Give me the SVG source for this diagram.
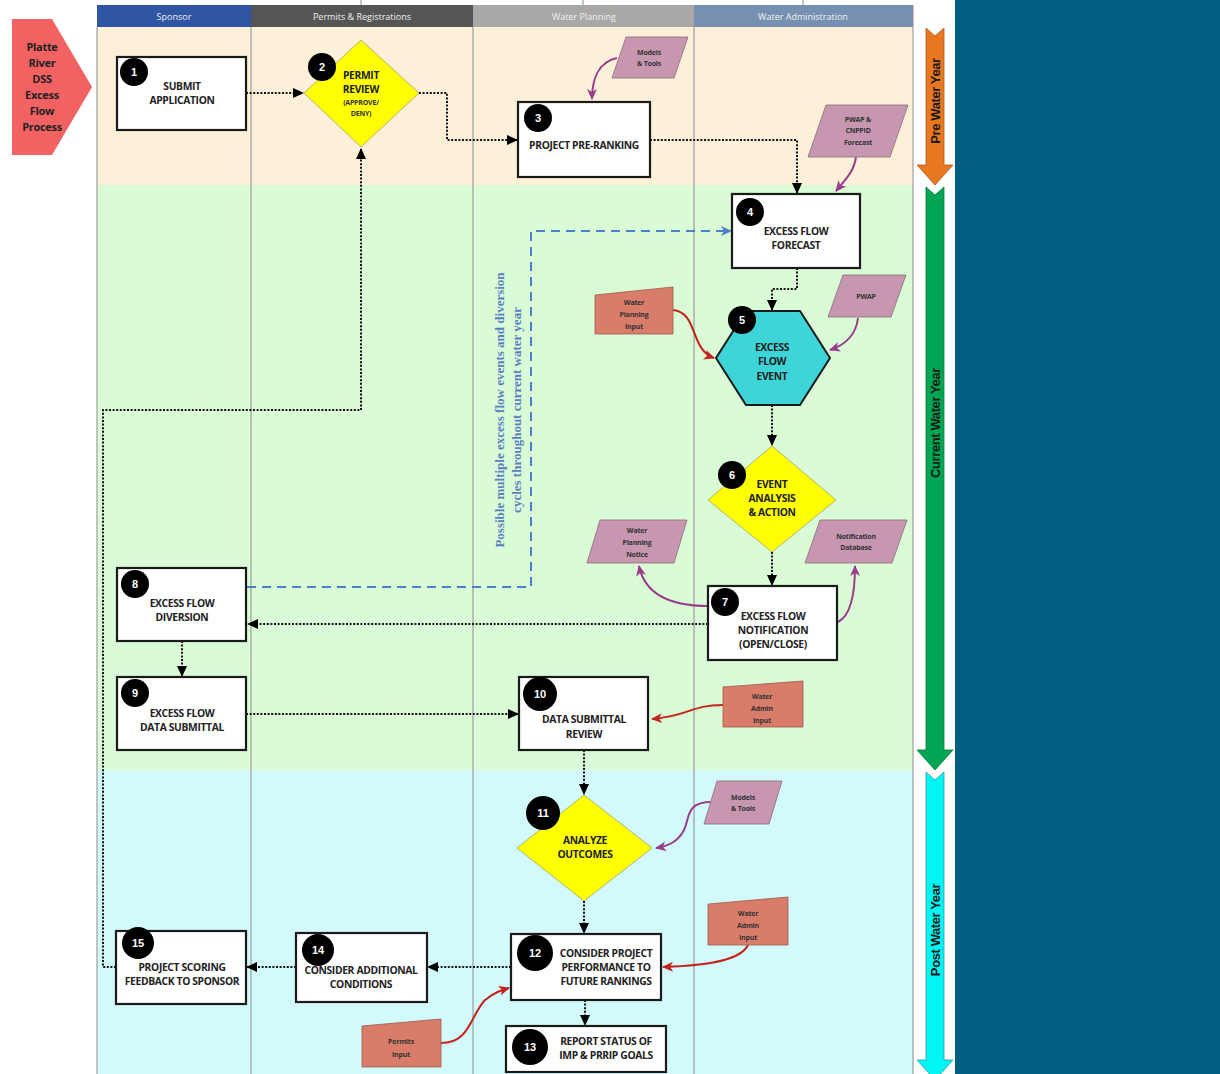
<svg xmlns="http://www.w3.org/2000/svg" width="1220" height="1074" viewBox="0 0 1220 1074">
  <style>
    .hdr { font-family: "Open Sans", "Liberation Sans", sans-serif; font-size: 9px; fill: #f0f0f0; text-anchor: middle; }
    .lbl { font-family: "Open Sans", "Liberation Sans", sans-serif; font-size: 10.3px; font-weight: bold; fill: #222; text-anchor: middle; letter-spacing: -0.35px; }
    .ttl { font-family: "Open Sans", "Liberation Sans", sans-serif; font-size: 11px; font-weight: bold; fill: #222; text-anchor: middle; letter-spacing: -0.3px; }
    .sm { font-family: "Open Sans", "Liberation Sans", sans-serif; font-size: 7px; font-weight: bold; fill: #333; text-anchor: middle; letter-spacing: -0.2px; }
    .num { font-family: "Liberation Sans", sans-serif; font-size: 11px; font-weight: bold; fill: #fff; text-anchor: middle; }
    .box { fill: #fff; stroke: #1a1a1a; stroke-width: 2.2; }
    .badge { fill: #000; }
    .para { fill: #c797b0; stroke: #8a6a7a; stroke-width: 0.8; }
    .manual { fill: #d97d6a; stroke: #9c5a4c; stroke-width: 0.8; }
    .flow { fill: none; stroke: #111; stroke-width: 2; stroke-dasharray: 2 1.6; marker-end: url(#blk); }
    .purp { fill: none; stroke: #9a3c8c; stroke-width: 2; marker-end: url(#pur); }
    .red { fill: none; stroke: #c4231b; stroke-width: 2; marker-end: url(#rd); }
    .lane { stroke: #8c8c8c; stroke-width: 1; }
    .yr { font-family: "Liberation Sans", sans-serif; font-size: 13px; font-weight: bold; fill: #1a1a1a; text-anchor: middle; letter-spacing: -0.4px; }
  </style>
  <defs>
    <marker id="blk" markerUnits="userSpaceOnUse" markerWidth="12" markerHeight="12" refX="10" refY="6" orient="auto">
      <path d="M0,1 L11,6 L0,11 Z" fill="#000"/>
    </marker>
    <marker id="pur" markerUnits="userSpaceOnUse" markerWidth="12" markerHeight="12" refX="10" refY="6" orient="auto">
      <path d="M0,1 L11,6 L0,11 L3,6 Z" fill="#9a3c8c"/>
    </marker>
    <marker id="rd" markerUnits="userSpaceOnUse" markerWidth="12" markerHeight="12" refX="10" refY="6" orient="auto">
      <path d="M0,1 L11,6 L0,11 L3,6 Z" fill="#c4231b"/>
    </marker>
    <marker id="blu" markerUnits="userSpaceOnUse" markerWidth="12" markerHeight="12" refX="10" refY="6" orient="auto">
      <path d="M0,1 L11,6 L0,11 L3,6 Z" fill="#4f7fc7"/>
    </marker>
  </defs>

  <!-- page -->
  <rect x="0" y="0" width="1220" height="1074" fill="#fff"/>
  <rect x="955" y="0" width="265" height="1074" fill="#005f80"/>

  <!-- phase bands -->
  <rect x="97" y="27" width="816" height="158" fill="#fdf0d8"/>
  <rect x="97" y="185" width="816" height="585" fill="#d9fbd5"/>
  <rect x="97" y="770" width="816" height="304" fill="#d3fafb"/>

  <!-- lane headers -->
  <g id="lane-headers">
    <rect x="97" y="5" width="154" height="22" fill="#2f55a4"/>
    <rect x="251" y="5" width="222" height="22" fill="#555555"/>
    <rect x="473" y="5" width="221" height="22" fill="#aaa8a6"/>
    <rect x="694" y="5" width="219" height="22" fill="#7590b0"/>
    <text class="hdr" x="174" y="20">Sponsor</text>
    <text class="hdr" x="362" y="20">Permits &amp; Registrations</text>
    <text class="hdr" x="584" y="20">Water Planning</text>
    <text class="hdr" x="803" y="20">Water Administration</text>
  </g>

  <!-- lane dividers -->
  <g id="lanes">
    <line class="lane" x1="97" y1="27" x2="97" y2="1074"/>
    <line class="lane" x1="251" y1="27" x2="251" y2="1074"/>
    <line class="lane" x1="473" y1="27" x2="473" y2="1074"/>
    <line class="lane" x1="694" y1="27" x2="694" y2="1074"/>
    <line class="lane" x1="913" y1="5" x2="913" y2="1074"/>
    <line class="lane" x1="361" y1="0" x2="361" y2="5"/>
    <line class="lane" x1="583" y1="0" x2="583" y2="5"/>
    <line class="lane" x1="803" y1="0" x2="803" y2="5"/>
  </g>

  <!-- process title -->
  <g id="title">
    <polygon points="12,19 52,19 92,87 52,155 12,155" fill="#f26262"/>
    <text class="ttl" x="42" y="51">Platte</text>
    <text class="ttl" x="42" y="67">River</text>
    <text class="ttl" x="42" y="83">DSS</text>
    <text class="ttl" x="42" y="99">Excess</text>
    <text class="ttl" x="42" y="115">Flow</text>
    <text class="ttl" x="42" y="131">Process</text>
  </g>

  <!-- water year timeline -->
  <g id="timeline">
    <polygon points="926,28 935,36 944,28 944,165 953,165 935,185 917,165 926,165" fill="#e87722" stroke="#a85a20" stroke-width="0.8"/>
    <polygon points="926,187 935,195 944,187 944,750 953,750 935,770 917,750 926,750" fill="#00a651" stroke="#007a3c" stroke-width="0.8"/>
    <polygon points="926,772 935,780 944,772 944,1060 953,1060 935,1080 917,1060 926,1060" fill="#00f5f5" stroke="#2a9a9a" stroke-width="0.8"/>
    <text class="yr" transform="translate(940,101) rotate(-90)">Pre Water Year</text>
    <text class="yr" transform="translate(940,423) rotate(-90)">Current Water Year</text>
    <text class="yr" transform="translate(940,930) rotate(-90)">Post Water Year</text>
  </g>

  <!-- connectors -->
  <g id="connectors">
    <path class="flow" d="M246,93 H303"/>
    <path class="flow" d="M419,93 H447 V140 H517"/>
    <path class="flow" d="M650,140 H797 V193"/>
    <path class="flow" d="M797,268 V289 H772 V310"/>
    <path class="flow" d="M772,405 V445"/>
    <path class="flow" d="M772,552 V585"/>
    <path class="flow" d="M708,624 H248"/>
    <path class="flow" d="M182,641 V676"/>
    <path class="flow" d="M246,714 H518"/>
    <path class="flow" d="M584,750 V794"/>
    <path class="flow" d="M584,901 V933"/>
    <path class="flow" d="M585,1000 V1025"/>
    <path class="flow" d="M511,967 H428"/>
    <path class="flow" d="M296,967 H247"/>
    <path class="flow" d="M116,967 H103 V410 H361 V149"/>
    <path d="M247,587 H531 V231 H731" fill="none" stroke="#4f7fc7" stroke-width="2" stroke-dasharray="9 6" marker-end="url(#blu)"/>
    <path class="purp" d="M617,58 C598,62 592,80 592,99"/>
    <path class="purp" d="M856,157 C854,172 845,180 836,191"/>
    <path class="red" d="M673,310 C698,312 690,350 714,358"/>
    <path class="purp" d="M858,318 C856,335 845,345 830,350"/>
    <path class="purp" d="M708,606 C670,606 645,595 639,566"/>
    <path class="purp" d="M838,622 C852,615 855,590 855,566"/>
    <path class="red" d="M723,705 C690,705 690,716 652,719"/>
    <path class="purp" d="M712,802 C685,802 690,818 684,830 C678,842 668,846 656,848"/>
    <path class="red" d="M748,945 C740,962 700,966 663,967"/>
    <path class="red" d="M441,1043 C470,1043 470,1016 485,1000 C495,992 502,990 509,988"/>
  </g>

  <!-- loop note -->
  <g id="loop-note" font-family="'Liberation Serif', serif" font-size="13px" font-weight="bold" fill="#5b7fc2" text-anchor="middle">
    <text transform="translate(504,410) rotate(-90)">Possible multiple excess flow events and diversion</text>
    <text transform="translate(521,410) rotate(-90)">cycles throughout current water year</text>
  </g>

  <!-- data inputs -->
  <g id="in-models-1">
    <polygon class="para" points="626,37 688,37 674,78 612,78"/>
    <text class="sm" x="649" y="55">Models</text>
    <text class="sm" x="649" y="66">&amp; Tools</text>
  </g>
  <g id="in-pwap-cnppid">
    <polygon class="para" points="826,105 908,105 890,157 808,157"/>
    <text class="sm" x="858" y="122">PWAP &amp;</text>
    <text class="sm" x="858" y="133">CNPPID</text>
    <text class="sm" x="858" y="145">Forecast</text>
  </g>
  <g id="in-wp-input">
    <polygon class="manual" points="595,295 673,287 673,334 595,334"/>
    <text class="sm" x="634" y="305">Water</text>
    <text class="sm" x="634" y="317">Planning</text>
    <text class="sm" x="634" y="329">Input</text>
  </g>
  <g id="in-pwap">
    <polygon class="para" points="843,275 906,275 891,317 828,317" fill="#c0a3b4"/>
    <text class="sm" x="866" y="299">PWAP</text>
  </g>
  <g id="out-wp-notice">
    <polygon class="para" points="600,520 687,520 674,563 587,563"/>
    <text class="sm" x="637" y="533">Water</text>
    <text class="sm" x="637" y="545">Planning</text>
    <text class="sm" x="637" y="557">Notice</text>
  </g>
  <g id="out-notif-db">
    <polygon class="para" points="820,520 907,520 892,563 805,563"/>
    <text class="sm" x="856" y="539">Notification</text>
    <text class="sm" x="856" y="550">Database</text>
  </g>
  <g id="in-wa-input-1">
    <polygon class="manual" points="723,687 803,681 803,727 723,727"/>
    <text class="sm" x="762" y="699">Water</text>
    <text class="sm" x="762" y="711">Admin</text>
    <text class="sm" x="762" y="723">Input</text>
  </g>
  <g id="in-models-2">
    <polygon class="para" points="717,781 782,781 769,824 704,824" fill="#c6a0d4"/>
    <text class="sm" x="743" y="800">Models</text>
    <text class="sm" x="743" y="811">&amp; Tools</text>
  </g>
  <g id="in-wa-input-2">
    <polygon class="manual" points="708,904 788,897 788,945 708,945"/>
    <text class="sm" x="748" y="916">Water</text>
    <text class="sm" x="748" y="928">Admin</text>
    <text class="sm" x="748" y="940">Input</text>
  </g>
  <g id="in-permits">
    <polygon class="manual" points="362,1026 441,1019 441,1067 362,1067"/>
    <text class="sm" x="401" y="1044">Permits</text>
    <text class="sm" x="401" y="1057">Input</text>
  </g>

  <!-- process steps -->
  <g id="step-1">
    <rect class="box" x="117" y="57" width="129" height="73"/>
    <circle class="badge" cx="134" cy="72" r="14"/>
    <text class="num" x="134" y="76">1</text>
    <text class="lbl" x="182" y="90">SUBMIT</text>
    <text class="lbl" x="182" y="104">APPLICATION</text>
  </g>
  <g id="step-2">
    <polygon points="361,40 419,93 361,147 304,93" fill="#ffff00" stroke="#b8b070" stroke-width="1"/>
    <circle class="badge" cx="322" cy="67" r="14"/>
    <text class="num" x="322" y="71">2</text>
    <text class="lbl" x="361" y="79">PERMIT</text>
    <text class="lbl" x="361" y="93">REVIEW</text>
    <text class="sm" x="361" y="105" font-size="6px">(APPROVE/</text>
    <text class="sm" x="361" y="116" font-size="6px">DENY)</text>
  </g>
  <g id="step-3">
    <rect class="box" x="518" y="102" width="132" height="75"/>
    <circle class="badge" cx="538" cy="118" r="14"/>
    <text class="num" x="538" y="122">3</text>
    <text class="lbl" x="584" y="149">PROJECT PRE-RANKING</text>
  </g>
  <g id="step-4">
    <rect class="box" x="732" y="194" width="128" height="74"/>
    <circle class="badge" cx="750" cy="212" r="14"/>
    <text class="num" x="750" y="216">4</text>
    <text class="lbl" x="796" y="235">EXCESS FLOW</text>
    <text class="lbl" x="796" y="249">FORECAST</text>
  </g>
  <g id="step-5">
    <polygon points="716,358 746,311 800,311 830,358 800,405 746,405" fill="#3dd5d8" stroke="#1a1a1a" stroke-width="2"/>
    <circle class="badge" cx="742" cy="320" r="14"/>
    <text class="num" x="742" y="324">5</text>
    <text class="lbl" x="772" y="351">EXCESS</text>
    <text class="lbl" x="772" y="365">FLOW</text>
    <text class="lbl" x="772" y="380">EVENT</text>
  </g>
  <g id="step-6">
    <polygon points="772,446 836,500 772,552 708,500" fill="#ffff00" stroke="#b8b070" stroke-width="1"/>
    <circle class="badge" cx="732" cy="475" r="14"/>
    <text class="num" x="732" y="479">6</text>
    <text class="lbl" x="772" y="488">EVENT</text>
    <text class="lbl" x="772" y="502">ANALYSIS</text>
    <text class="lbl" x="772" y="516">&amp; ACTION</text>
  </g>
  <g id="step-7">
    <rect class="box" x="708" y="586" width="129" height="74"/>
    <circle class="badge" cx="725" cy="602" r="14"/>
    <text class="num" x="725" y="606">7</text>
    <text class="lbl" x="773" y="620">EXCESS FLOW</text>
    <text class="lbl" x="773" y="634">NOTIFICATION</text>
    <text class="lbl" x="773" y="648">(OPEN/CLOSE)</text>
  </g>
  <g id="step-8">
    <rect class="box" x="117" y="568" width="129" height="73"/>
    <circle class="badge" cx="135" cy="584" r="14"/>
    <text class="num" x="135" y="588">8</text>
    <text class="lbl" x="182" y="607">EXCESS FLOW</text>
    <text class="lbl" x="182" y="621">DIVERSION</text>
  </g>
  <g id="step-9">
    <rect class="box" x="117" y="677" width="129" height="73"/>
    <circle class="badge" cx="135" cy="693" r="14"/>
    <text class="num" x="135" y="697">9</text>
    <text class="lbl" x="182" y="717">EXCESS FLOW</text>
    <text class="lbl" x="182" y="731">DATA SUBMITTAL</text>
  </g>
  <g id="step-10">
    <rect class="box" x="519" y="677" width="129" height="73"/>
    <circle class="badge" cx="540" cy="694" r="17"/>
    <text class="num" x="540" y="698">10</text>
    <text class="lbl" x="584" y="723">DATA SUBMITTAL</text>
    <text class="lbl" x="584" y="738">REVIEW</text>
  </g>
  <g id="step-11">
    <polygon points="584,795 652,848 584,901 517,848" fill="#ffff00" stroke="#b8b070" stroke-width="1"/>
    <circle class="badge" cx="543" cy="813" r="17"/>
    <text class="num" x="543" y="817">11</text>
    <text class="lbl" x="585" y="844">ANALYZE</text>
    <text class="lbl" x="585" y="858">OUTCOMES</text>
  </g>
  <g id="step-12">
    <rect class="box" x="511" y="934" width="150" height="66"/>
    <circle class="badge" cx="535" cy="953" r="18"/>
    <text class="num" x="535" y="957">12</text>
    <text class="lbl" x="606" y="957">CONSIDER PROJECT</text>
    <text class="lbl" x="606" y="971">PERFORMANCE TO</text>
    <text class="lbl" x="606" y="985">FUTURE RANKINGS</text>
  </g>
  <g id="step-13">
    <rect class="box" x="506" y="1026" width="160" height="46"/>
    <circle class="badge" cx="530" cy="1047" r="18"/>
    <text class="num" x="530" y="1051">13</text>
    <text class="lbl" x="606" y="1045">REPORT STATUS OF</text>
    <text class="lbl" x="606" y="1059">IMP &amp; PRRIP GOALS</text>
  </g>
  <g id="step-14">
    <rect class="box" x="296" y="933" width="131" height="69"/>
    <circle class="badge" cx="318" cy="950" r="16"/>
    <text class="num" x="318" y="954">14</text>
    <text class="lbl" x="361" y="974">CONSIDER ADDITIONAL</text>
    <text class="lbl" x="361" y="988">CONDITIONS</text>
  </g>
  <g id="step-15">
    <rect class="box" x="116" y="931" width="130" height="73"/>
    <circle class="badge" cx="138" cy="943" r="16"/>
    <text class="num" x="138" y="947">15</text>
    <text class="lbl" x="182" y="971">PROJECT SCORING</text>
    <text class="lbl" x="182" y="985">FEEDBACK TO SPONSOR</text>
  </g>
</svg>
